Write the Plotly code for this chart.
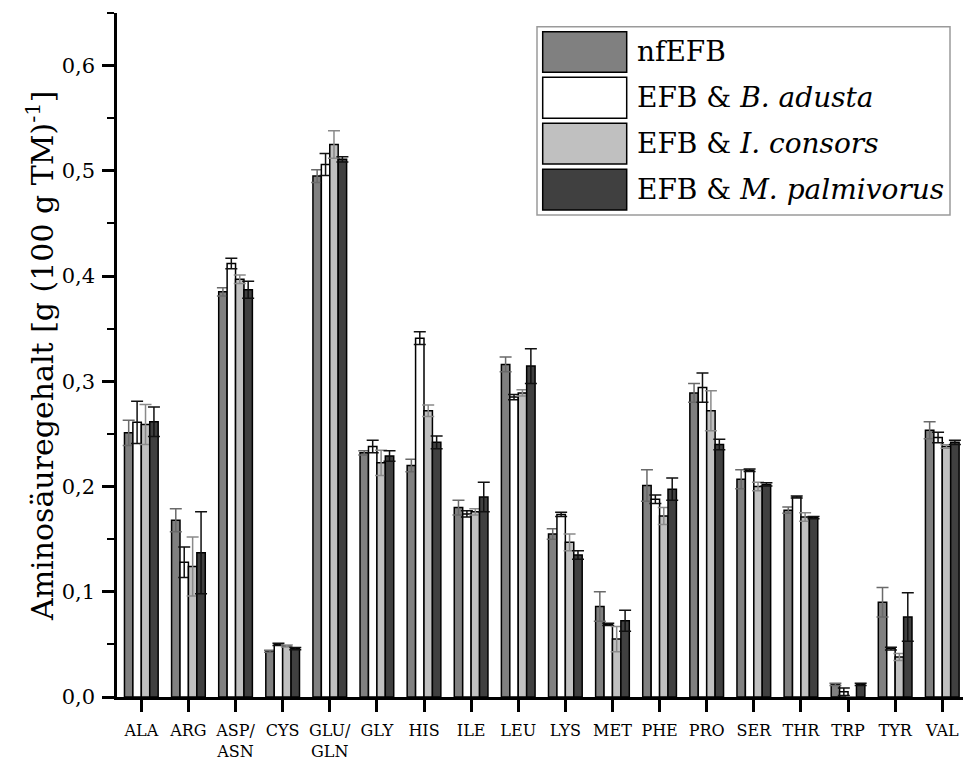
import plotly.graph_objects as go

categories = ["ALA", "ARG", "ASP/<br>ASN", "CYS", "GLU/<br>GLN", "GLY", "HIS", "ILE", "LEU",
              "LYS", "MET", "PHE", "PRO", "SER", "THR", "TRP", "TYR", "VAL"]

series_names = ["nfEFB", "EFB &amp; <i>B. adusta</i>", "EFB &amp; <i>I. consors</i>",
                "EFB &amp; <i>M. palmivorus</i>"]

nfEFB = [0.251, 0.168, 0.385, 0.0435, 0.495, 0.232, 0.220, 0.180, 0.316, 0.155, 0.086, 0.201,
         0.289, 0.207, 0.1775, 0.012, 0.090, 0.2535]
nfEFB_err = [0.012, 0.011, 0.004, 0.001, 0.006, 0.002, 0.006, 0.007, 0.007, 0.005, 0.014, 0.015,
             0.009, 0.009, 0.003, 0.001, 0.014, 0.008]

b_adusta = [0.261, 0.128, 0.412, 0.050, 0.506, 0.238, 0.341, 0.174, 0.285, 0.1735, 0.069, 0.188,
            0.294, 0.2155, 0.190, 0.005, 0.046, 0.2465]
b_adusta_err = [0.020, 0.0145, 0.005, 0.001, 0.0105, 0.006, 0.006, 0.003, 0.0025, 0.002, 0.001, 0.004,
                0.014, 0.0012, 0.001, 0.0035, 0.0013, 0.005]

i_consors = [0.259, 0.124, 0.397, 0.0485, 0.525, 0.2225, 0.272, 0.176, 0.289, 0.147, 0.055, 0.172,
             0.272, 0.200, 0.171, 0.0, 0.038, 0.238]
i_consors_err = [0.019, 0.028, 0.004, 0.001, 0.013, 0.012, 0.0055, 0.003, 0.003, 0.008, 0.012, 0.008,
                 0.019, 0.004, 0.004, 0.0, 0.0033, 0.0016]

m_palmivorus = [0.2615, 0.137, 0.387, 0.046, 0.511, 0.229, 0.242, 0.190, 0.3145, 0.135, 0.0725, 0.1975,
                0.240, 0.202, 0.1705, 0.012, 0.076, 0.242]
m_palmivorus_err = [0.014, 0.039, 0.008, 0.001, 0.0025, 0.005, 0.006, 0.014, 0.0165, 0.004, 0.010, 0.0105,
                    0.005, 0.0015, 0.001, 0.001, 0.023, 0.002]

values = [nfEFB, b_adusta, i_consors, m_palmivorus]
errors = [nfEFB_err, b_adusta_err, i_consors_err, m_palmivorus_err]
fill_colors = ["#808080", "#ffffff", "#c0c0c0", "#404040"]
err_colors = ["#6a6a6a", "#111111", "#8a8a8a", "#111111"]

W, H = 963, 763
ML, MR, MT, MB = 117, 0, 13, 66
PW, PH = W - ML - MR, H - MT - MB

SERIF = "DejaVu Serif"

fig = go.Figure()
for name, v, e, fc, ec in zip(series_names, values, errors, fill_colors, err_colors):
    fig.add_trace(go.Bar(
        x=categories, y=v, name=name,
        marker=dict(color=fc, line=dict(color="black", width=1.5)),
        error_y=dict(type="data", array=e, visible=True, color=ec, thickness=1.5, width=6),
        showlegend=False,
    ))

fig.update_layout(
    width=W, height=H,
    margin=dict(l=ML, r=MR, t=MT, b=MB, pad=0),
    paper_bgcolor="white", plot_bgcolor="white",
    barmode="group", bargap=0.285, bargroupgap=0.0,
    separators=", ",
    font=dict(family=SERIF, color="black"),
)

fig.update_xaxes(
    type="category", range=[-0.516, 17.44],
    showline=True, linecolor="black", linewidth=2.5,
    ticks="outside", ticklen=12, tickwidth=2.5, tickcolor="black",
    ticklabelstandoff=5,
    showgrid=False, zeroline=False,
    tickfont=dict(family=SERIF, size=16, color="black"),
)
fig.update_yaxes(
    range=[0, 0.65], tick0=0, dtick=0.1, tickformat=".1f",
    showline=True, linecolor="black", linewidth=2.5,
    ticks="outside", ticklen=12, tickwidth=2.5, tickcolor="black",
    ticklabelstandoff=3,
    minor=dict(dtick=0.05, ticks="outside", ticklen=7, tickwidth=2, tickcolor="black", showgrid=False),
    showgrid=False, zeroline=False,
    tickfont=dict(family=SERIF, size=21, color="black"),
)


def px_x(x):
    return (x - ML) / PW


def px_y(y):
    return (H - MB - y) / PH


annotations = [dict(
    text="Aminosäuregehalt [g (100 g TM)<sup>-1</sup>]",
    xref="paper", yref="paper", x=px_x(40), y=px_y(356),
    xanchor="center", yanchor="middle", textangle=-90, showarrow=False,
    font=dict(family=SERIF, size=30, color="black"),
)]

shapes = [dict(type="rect", xref="paper", yref="paper",
               x0=px_x(537), x1=px_x(950), y0=px_y(215), y1=px_y(26.7),
               line=dict(color="#9a9a9a", width=1.5), fillcolor="white", layer="above")]

rows = [(31.7, 72.3), (77.3, 118.3), (123.3, 164.0), (169.3, 210.0)]
for (top, bot), name, fc in zip(rows, series_names, fill_colors):
    shapes.append(dict(type="rect", xref="paper", yref="paper",
                       x0=px_x(542.7), x1=px_x(626.7), y0=px_y(bot), y1=px_y(top),
                       line=dict(color="black", width=1.5), fillcolor=fc, layer="above"))
    annotations.append(dict(text=name, xref="paper", yref="paper",
                            x=px_x(635), y=px_y((top + bot) / 2),
                            xanchor="left", yanchor="middle", showarrow=False,
                            font=dict(family=SERIF, size=28, color="black")))

fig.update_layout(shapes=shapes, annotations=annotations)

fig.write_html("out.html")
